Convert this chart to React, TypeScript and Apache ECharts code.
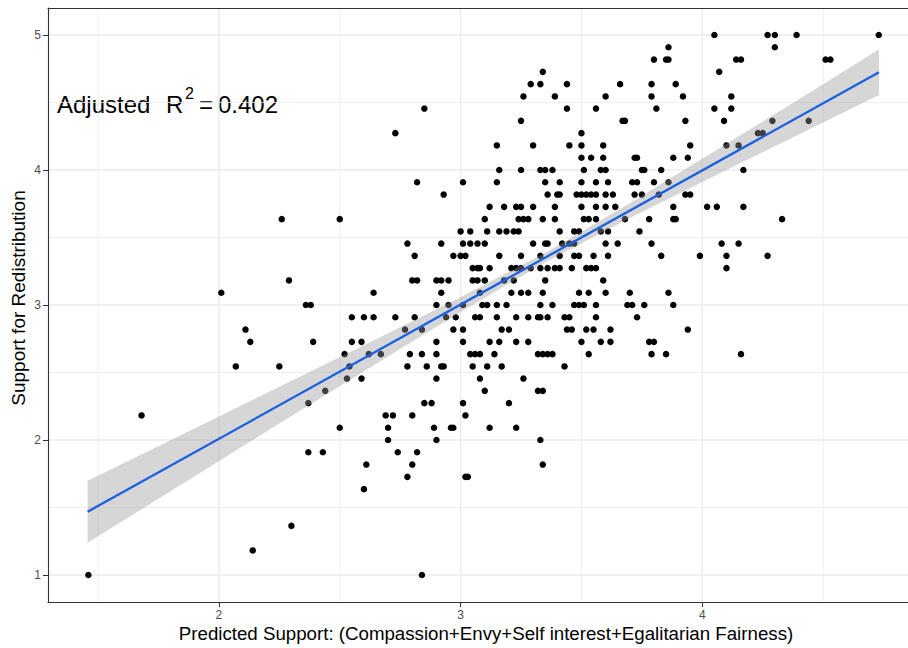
import React, { useEffect, useRef } from "react";
import * as echarts from "echarts";

// Axis ranges (ggplot 5% expansion; the panel's right edge is cropped at the image border)
const xRange = [1.293, 4.851];
const yRange = [0.8, 5.2];
const majorTicksX = [2, 3, 4];
const minorTicksX = [1.5, 2.5, 3.5, 4.5];
const majorTicksY = [1, 2, 3, 4, 5];
const minorTicksY = [1.5, 2.5, 3.5, 4.5];

// Observed points, grouped by Support for Redistribution level: [y, predicted x values]
const pointRows: Array<[number, number[]]> = [
  [5.0, [4.05, 4.27, 4.3, 4.39, 4.73]],
  [4.909, [3.86, 4.3]],
  [4.818, [3.8, 3.85, 3.86, 4.14, 4.16, 4.51, 4.53]],
  [4.727, [3.34, 4.07]],
  [4.636, [3.29, 3.33, 3.44, 3.66, 3.79, 3.89]],
  [4.545, [3.26, 3.39, 3.6, 3.79, 3.92, 4.12]],
  [4.455, [2.85, 3.44, 3.56, 3.81, 4.05, 4.12]],
  [4.364, [3.25, 3.67, 3.68, 3.93, 4.09, 4.29, 4.44]],
  [4.273, [2.73, 3.5, 4.23, 4.25]],
  [4.182, [3.15, 3.3, 3.45, 3.5, 3.59, 3.95, 4.1, 4.15]],
  [4.091, [3.5, 3.54, 3.59, 3.72, 3.73, 3.88, 3.94]],
  [4.0, [3.16, 3.25, 3.33, 3.35, 3.38, 3.51, 3.58, 3.6, 3.75, 3.76, 3.83, 4.17]],
  [3.909, [2.82, 3.01, 3.15, 3.35, 3.41, 3.5, 3.56, 3.61, 3.71, 3.73, 3.8, 3.86]],
  [3.818, [2.93, 3.36, 3.4, 3.41, 3.48, 3.5, 3.52, 3.54, 3.56, 3.6, 3.63, 3.72, 3.75, 3.82, 3.93, 3.95]],
  [3.727, [3.12, 3.18, 3.23, 3.25, 3.3, 3.39, 3.5, 3.56, 3.6, 3.64, 3.88, 4.02, 4.06, 4.17]],
  [3.636, [2.26, 2.5, 3.1, 3.24, 3.26, 3.28, 3.34, 3.39, 3.51, 3.53, 3.56, 3.68, 3.78, 3.88, 3.89, 4.33]],
  [3.545, [3.0, 3.04, 3.11, 3.16, 3.19, 3.22, 3.24, 3.41, 3.47, 3.49, 3.58, 3.61, 3.74]],
  [3.455, [2.78, 2.92, 3.01, 3.04, 3.07, 3.1, 3.3, 3.35, 3.36, 3.42, 3.45, 3.47, 3.6, 3.65, 3.79, 4.08, 4.15]],
  [3.364, [2.81, 2.97, 3.0, 3.02, 3.16, 3.25, 3.33, 3.41, 3.47, 3.49, 3.55, 3.61, 3.83, 3.99, 4.1, 4.27]],
  [3.273, [3.05, 3.07, 3.08, 3.12, 3.21, 3.23, 3.25, 3.29, 3.33, 3.36, 3.39, 3.41, 3.46, 3.52, 3.54, 3.56, 4.1]],
  [3.182, [2.29, 2.8, 2.82, 2.9, 2.92, 2.95, 3.05, 3.07, 3.1, 3.18, 3.22, 3.35, 3.59]],
  [3.091, [2.01, 2.64, 2.92, 3.08, 3.21, 3.25, 3.28, 3.34, 3.49, 3.53, 3.6, 3.7, 3.86]],
  [3.0, [2.36, 2.38, 2.9, 2.95, 3.01, 3.09, 3.11, 3.15, 3.19, 3.33, 3.38, 3.47, 3.49, 3.51, 3.56, 3.69, 3.71, 3.76, 3.88]],
  [2.909, [2.55, 2.6, 2.64, 2.73, 2.81, 2.94, 2.98, 3.06, 3.08, 3.15, 3.23, 3.28, 3.32, 3.33, 3.36, 3.43, 3.45, 3.56, 3.73]],
  [2.818, [2.11, 2.77, 2.84, 2.97, 3.01, 3.17, 3.2, 3.44, 3.46, 3.52, 3.55, 3.62, 3.94]],
  [2.727, [2.13, 2.39, 2.55, 2.59, 2.9, 3.01, 3.12, 3.16, 3.23, 3.28, 3.5, 3.58, 3.62, 3.78, 3.8]],
  [2.636, [2.52, 2.62, 2.67, 2.79, 2.84, 2.9, 3.04, 3.06, 3.08, 3.14, 3.32, 3.34, 3.36, 3.38, 3.53, 3.79, 3.85, 4.16]],
  [2.545, [2.07, 2.25, 2.54, 2.78, 2.86, 2.92, 2.93, 3.05, 3.11, 3.17, 3.43]],
  [2.455, [2.53, 2.59, 2.9, 3.08, 3.26]],
  [2.364, [2.44, 3.1, 3.32, 3.34]],
  [2.273, [2.37, 2.85, 2.88, 3.01, 3.2]],
  [2.182, [1.68, 2.69, 2.72, 2.8, 3.02]],
  [2.091, [2.5, 2.7, 2.89, 2.96, 2.97, 3.12, 3.23]],
  [2.0, [2.7, 2.9, 3.33]],
  [1.909, [2.37, 2.43, 2.74, 2.82]],
  [1.818, [2.61, 2.8, 3.34]],
  [1.727, [2.78, 3.02, 3.03]],
  [1.636, [2.6]],
  [1.364, [2.3]],
  [1.182, [2.14]],
  [1.0, [1.46, 2.84]],
];

// Fitted regression line and its confidence band
const fitX = [1.457, 4.731];
const fitY = [1.469, 4.724];
const bandX = [1.457, 1.8, 2.2, 2.6, 3.0, 3.35, 3.7, 4.1, 4.5, 4.731];
const bandLower = [1.239, 1.621, 2.066, 2.509, 2.949, 3.316, 3.645, 4.0, 4.352, 4.555];
const bandUpper = [1.699, 1.999, 2.35, 2.702, 3.058, 3.386, 3.754, 4.194, 4.636, 4.894];

const FONT = "'Liberation Sans', Arial, Helvetica, sans-serif";

export default function App() {
  const ref = useRef<HTMLDivElement>(null);

  useEffect(() => {
    if (!ref.current) return;
    const chart = echarts.init(ref.current, null, { renderer: "svg" });

    const points = pointRows.flatMap(([y, xs]) => xs.map((x) => [x, y]));
    const fitData = fitX.map((x, i) => [x, fitY[i]]);

    const gridLeft = 48;
    const gridWidth = 860;

    const labelStyle = {
      show: true,
      margin: 7,
      color: "#4d4d4d",
      fontSize: 12,
      fontFamily: FONT,
    };

    chart.setOption({
      animation: false,
      backgroundColor: "#ffffff",
      grid: {
        left: gridLeft,
        top: 8,
        width: gridWidth,
        height: 594,
        containLabel: false,
        outerBoundsMode: "none",
      },
      xAxis: [
        {
          type: "value",
          min: xRange[0],
          max: xRange[1],
          axisLine: { show: true, onZero: false, lineStyle: { color: "#333333", width: 1.1 } },
          axisTick: { show: true, length: 5, customValues: majorTicksX, lineStyle: { color: "#333333", width: 1 } },
          axisLabel: { ...labelStyle, customValues: majorTicksX },
          splitLine: { show: false },
          z: 5,
        },
        {
          type: "value",
          position: "top",
          min: xRange[0],
          max: xRange[1],
          axisLine: { show: true, onZero: false, lineStyle: { color: "#333333", width: 1.1 } },
          axisTick: { show: false },
          axisLabel: { show: false },
          splitLine: { show: false },
          z: 5,
        },
      ],
      yAxis: [
        {
          type: "value",
          min: yRange[0],
          max: yRange[1],
          axisLine: { show: true, onZero: false, lineStyle: { color: "#333333", width: 1.1 } },
          axisTick: { show: true, length: 5, customValues: majorTicksY, lineStyle: { color: "#333333", width: 1 } },
          axisLabel: { ...labelStyle, customValues: majorTicksY },
          splitLine: { show: false },
          z: 5,
        },
      ],
      series: [
        {
          type: "custom",
          data: [[xRange[0], yRange[0]]],
          silent: true,
          z: 1,
          renderItem: (_params: any, api: any) => {
            const children: any[] = [];
            const vLine = (x: number, w: number) => {
              const a = api.coord([x, yRange[0]]);
              const b = api.coord([x, yRange[1]]);
              children.push({
                type: "line",
                shape: { x1: a[0], y1: a[1], x2: b[0], y2: b[1] },
                style: { stroke: "#ebebeb", lineWidth: w },
              });
            };
            const hLine = (y: number, w: number) => {
              const a = api.coord([xRange[0], y]);
              const b = api.coord([xRange[1], y]);
              children.push({
                type: "line",
                shape: { x1: a[0], y1: a[1], x2: b[0], y2: b[1] },
                style: { stroke: "#ebebeb", lineWidth: w },
              });
            };
            minorTicksX.forEach((x) => vLine(x, 0.8));
            minorTicksY.forEach((y) => hLine(y, 0.8));
            majorTicksX.forEach((x) => vLine(x, 1.4));
            majorTicksY.forEach((y) => hLine(y, 1.4));
            return { type: "group", children };
          },
        },
        {
          type: "scatter",
          data: points,
          symbol: "circle",
          symbolSize: 6.5,
          itemStyle: { color: "#000000", opacity: 1 },
          silent: true,
          z: 2,
        },
        {
          type: "custom",
          data: [[bandX[0], bandLower[0]]],
          silent: true,
          z: 3,
          renderItem: (_params: any, api: any) => {
            const upper = bandX.map((x, i) => api.coord([x, bandUpper[i]]));
            const lower = bandX.map((x, i) => api.coord([x, bandLower[i]])).reverse();
            return {
              type: "polygon",
              shape: { points: upper.concat(lower) },
              style: { fill: "rgba(153,153,153,0.4)", stroke: "none" },
            };
          },
        },
        {
          type: "line",
          data: fitData,
          showSymbol: false,
          symbol: "none",
          lineStyle: { color: "#1b5fe3", width: 2.3 },
          silent: true,
          z: 4,
        },
      ],
      graphic: [
        {
          type: "text",
          x: 57,
          y: 104,
          style: { text: "Adjusted", fill: "#000", font: `24px ${FONT}`, textAlign: "left", textVerticalAlign: "middle" },
        },
        {
          type: "text",
          x: 166,
          y: 104,
          style: { text: "R", fill: "#000", font: `24px ${FONT}`, textAlign: "left", textVerticalAlign: "middle" },
        },
        {
          type: "text",
          x: 185,
          y: 93.5,
          style: { text: "2", fill: "#000", font: `16px ${FONT}`, textAlign: "left", textVerticalAlign: "middle" },
        },
        {
          type: "text",
          x: 199,
          y: 104,
          style: { text: "=", fill: "#000", font: `24px ${FONT}`, textAlign: "left", textVerticalAlign: "middle" },
        },
        {
          type: "text",
          x: 218,
          y: 104,
          style: { text: "0.402", fill: "#000", font: `24px ${FONT}`, textAlign: "left", textVerticalAlign: "middle" },
        },
        {
          type: "text",
          x: 486,
          y: 633,
          style: {
            text: "Predicted Support: (Compassion+Envy+Self interest+Egalitarian Fairness)",
            fill: "#000",
            font: `18.7px ${FONT}`,
            textAlign: "center",
            textVerticalAlign: "middle",
          },
        },
        {
          type: "text",
          x: 18,
          y: 298,
          rotation: Math.PI / 2,
          style: {
            text: "Support for Redistribution",
            fill: "#000",
            font: `19px ${FONT}`,
            textAlign: "center",
            textVerticalAlign: "middle",
          },
        },
      ],
    });

    return () => {
      chart.dispose();
    };
  }, []);

  return (
    <div
      ref={ref}
      style={{ position: "fixed", left: 0, top: 0, width: 908, height: 648, background: "#fff" }}
    />
  );
}
